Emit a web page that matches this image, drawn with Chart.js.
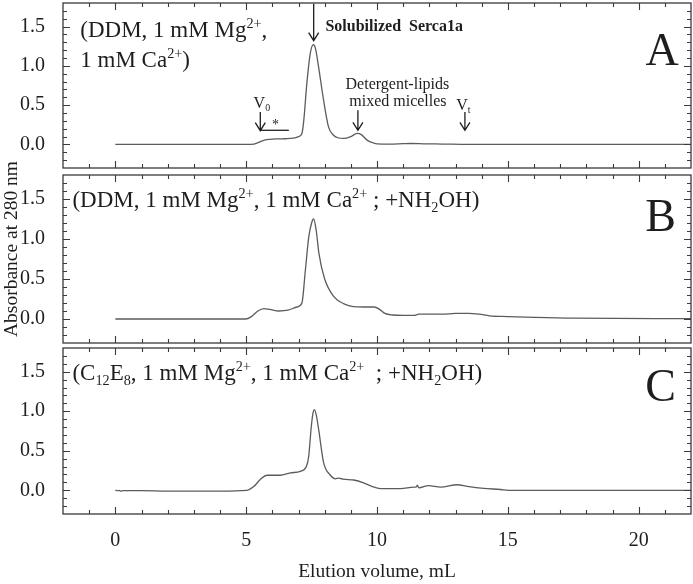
<!DOCTYPE html>
<html><head><meta charset="utf-8">
<script src="https://cdn.jsdelivr.net/npm/chart.js@4/dist/chart.umd.min.js"></script>
<style>
html,body{margin:0;padding:0;background:#fff;}
#wrap{position:relative;width:693px;height:584px;background:#fff;}
#wrap canvas{position:absolute;left:0;top:0;}
</style></head><body>
<div id="wrap">
<canvas id="cA" width="693" height="584"></canvas>
<canvas id="cB" width="693" height="584"></canvas>
<canvas id="cC" width="693" height="584"></canvas>
</div>
<script>
// ---- Data ----
const elutionA = [0, 1, 2, 3, 4, 5, 5.3, 5.5, 5.7, 5.9, 6.2, 6.5, 6.8, 7.0, 7.13, 7.2, 7.32, 7.45, 7.57, 7.65, 7.77, 7.96, 8.15, 8.33, 8.5, 8.74, 9.0, 9.24, 9.4, 9.62, 9.8, 10.0, 10.5, 11.0, 11.3, 11.8, 12.5, 13.5, 15, 18, 22];
const absorbA  = [0, 0, 0, 0, 0, 0, 0.005, 0.03, 0.055, 0.065, 0.07, 0.072, 0.08, 0.1, 0.14, 0.3, 0.78, 1.16, 1.27, 1.22, 0.98, 0.56, 0.22, 0.12, 0.085, 0.076, 0.1, 0.14, 0.125, 0.055, 0.025, 0.008, 0.005, 0.01, 0.012, 0.008, 0.005, 0, 0, 0, 0];

const elutionB = [0, 2, 4, 4.97, 5.2, 5.45, 5.67, 5.9, 6.25, 6.6, 6.94, 7.13, 7.26, 7.39, 7.5, 7.58, 7.68, 7.78, 8.0, 8.35, 8.74, 9.1, 9.5, 9.9, 10.1, 10.3, 10.6, 11.0, 11.4, 11.6, 12.0, 12.5, 13.0, 13.5, 13.9, 14.3, 15.0, 16.0, 17.5, 22];
const absorbB  = [0, 0, 0, 0, 0.03, 0.1, 0.13, 0.12, 0.1, 0.11, 0.15, 0.2, 0.6, 1.02, 1.2, 1.25, 1.1, 0.82, 0.5, 0.28, 0.19, 0.155, 0.15, 0.15, 0.12, 0.07, 0.05, 0.045, 0.045, 0.06, 0.06, 0.06, 0.07, 0.07, 0.06, 0.04, 0.03, 0.02, 0.01, 0.005];

const elutionC = [0, 0.1, 0.15, 0.2, 0.3, 1, 2, 3, 4, 5.03, 5.3, 5.55, 5.8, 6.3, 6.69, 7.07, 7.3, 7.39, 7.49, 7.55, 7.61, 7.68, 7.77, 7.96, 8.22, 8.41, 8.54, 8.7, 9.11, 9.49, 9.8, 10.13, 10.9, 11.41, 11.5, 11.54, 11.6, 11.97, 12.43, 13.07, 13.45, 14.08, 14.72, 15.03, 22];
const absorbC  = [0, -0.005, 0, -0.01, -0.005, -0.005, -0.01, -0.01, -0.01, 0, 0.05, 0.14, 0.19, 0.19, 0.22, 0.24, 0.3, 0.43, 0.81, 0.97, 1.02, 0.95, 0.77, 0.35, 0.19, 0.145, 0.155, 0.14, 0.13, 0.095, 0.05, 0.02, 0.02, 0.04, 0.04, 0.065, 0.03, 0.06, 0.04, 0.07, 0.05, 0.025, 0.01, 0, 0];

const xTickValues = [0, 5, 10, 15, 20];
const yTickValues = [0, 0.5, 1.0, 1.5];
const xRange = [-2, 22];
const yRange = [-0.3, 1.8];
const xTitle = 'Elution volume, mL';
const yTitle = 'Absorbance at 280 nm';

// ---- Styling / drawing helpers ----
const SERIF = "'Liberation Serif','Times New Roman',serif";
const INK = '#1e1e1e';

function drawRich(ctx, segs, px, pyCenter, size, align, weight) {
  const fontOf = m => `${weight || 'normal'} ${m === 'n' ? size : size * 0.62}px ${SERIF}`;
  let total = 0;
  const widths = segs.map(([t, m]) => { ctx.font = fontOf(m); const w = ctx.measureText(t).width; total += w; return w; });
  let cx = align === 'center' ? px - total / 2 : (align === 'right' ? px - total : px);
  const base = pyCenter + size * 0.33;
  ctx.textBaseline = 'alphabetic';
  ctx.textAlign = 'left';
  ctx.fillStyle = INK;
  segs.forEach(([t, m], i) => {
    ctx.font = fontOf(m);
    const dy = m === 'sup' ? -size * 0.4 : (m === 'sub' ? size * 0.2 : 0);
    ctx.fillText(t, cx, base + dy);
    cx += widths[i];
  });
}

const notes = {
  cA: [
    {kind: 'text', x: -1.34, y: 1.463, size: 23, segs: [['(DDM, 1 mM Mg', 'n'], ['2+', 'sup'], [',', 'n']]},
    {kind: 'text', x: -1.34, y: 1.08, size: 23, segs: [['1 mM Ca', 'n'], ['2+', 'sup'], [')', 'n']]},
    {kind: 'text', x: 20.9, y: 1.21, size: 46, align: 'center', segs: [['A', 'n']]},
    {kind: 'arrow', x: 7.58, y1: 1.79, y2: 1.32},
    {kind: 'text', x: 8.03, y: 1.514, size: 16, weight: 'bold', segs: [['Solubilized  Serca1a', 'n']]},
    {kind: 'text', x: 10.78, y: 0.778, size: 16, align: 'center', segs: [['Detergent-lipids', 'n']]},
    {kind: 'text', x: 10.8, y: 0.55, size: 16, align: 'center', segs: [['mixed micelles', 'n']]},
    {kind: 'arrow', x: 9.27, y1: 0.435, y2: 0.18},
    {kind: 'text', x: 13.3, y: 0.51, size: 16, align: 'center', segs: [['V', 'n'], ['t', 'sub']]},
    {kind: 'arrow', x: 13.36, y1: 0.414, y2: 0.18},
    {kind: 'text', x: 5.6, y: 0.537, size: 16, align: 'center', segs: [['V', 'n'], ['0', 'sub']]},
    {kind: 'arrow', x: 5.54, y1: 0.414, y2: 0.175},
    {kind: 'hline', x1: 5.54, x2: 6.63, y: 0.18},
    {kind: 'text', x: 6.12, y: 0.26, size: 14, align: 'center', segs: [['*', 'n']]}
  ],
  cB: [
    {kind: 'text', x: -1.64, y: 1.49, size: 23, segs: [['(DDM, 1 mM Mg', 'n'], ['2+', 'sup'], [', 1 mM Ca', 'n'], ['2+', 'sup'], [' ; +NH', 'n'], ['2', 'sub'], ['OH)', 'n']]},
    {kind: 'text', x: 20.84, y: 1.29, size: 46, align: 'center', segs: [['B', 'n']]},
    {kind: 'ytitle'}
  ],
  cC: [
    {kind: 'text', x: -1.64, y: 1.49, size: 23, segs: [['(C', 'n'], ['12', 'sub'], ['E', 'n'], ['8', 'sub'], [', 1 mM Mg', 'n'], ['2+', 'sup'], [', 1 mM Ca', 'n'], ['2+', 'sup'], ['  ; +NH', 'n'], ['2', 'sub'], ['OH)', 'n']]},
    {kind: 'text', x: 20.84, y: 1.32, size: 46, align: 'center', segs: [['C', 'n']]}
  ]
};

const framePlugin = {
  id: 'frameTicks',
  afterDatasetsDraw(chart) {
    const {ctx, chartArea: a, scales: {x, y}} = chart;
    ctx.save();
    ctx.strokeStyle = '#3a3a3a';
    ctx.lineWidth = 1.3;
    ctx.strokeRect(a.left, a.top, a.right - a.left, a.bottom - a.top);
    ctx.lineWidth = 1.1;
    ctx.beginPath();
    for (let v = Math.ceil(x.min) + 1; v < x.max; v++) {
      const p = Math.round(x.getPixelForValue(v)) + 0.5;
      const L = v % 5 === 0 ? 7 : 4;
      ctx.moveTo(p, a.bottom); ctx.lineTo(p, a.bottom - L);
      ctx.moveTo(p, a.top); ctx.lineTo(p, a.top + L);
    }
    for (let i = Math.round(y.min * 10) + 1; i < Math.round(y.max * 10); i++) {
      const p = Math.round(y.getPixelForValue(i / 10)) + 0.5;
      const L = i % 5 === 0 ? 7 : 4;
      ctx.moveTo(a.left, p); ctx.lineTo(a.left + L, p);
      ctx.moveTo(a.right, p); ctx.lineTo(a.right - L, p);
    }
    ctx.stroke();
    ctx.restore();
  }
};

const notesPlugin = {
  id: 'panelNotes',
  afterDraw(chart) {
    const list = notes[chart.canvas.id] || [];
    const {ctx, scales: {x, y}} = chart;
    ctx.save();
    ctx.strokeStyle = INK;
    ctx.lineWidth = 1.3;
    list.forEach(n => {
      if (n.kind === 'text') {
        drawRich(ctx, n.segs, x.getPixelForValue(n.x), y.getPixelForValue(n.y), n.size, n.align, n.weight);
      } else if (n.kind === 'arrow') {
        const px = x.getPixelForValue(n.x), p1 = y.getPixelForValue(n.y1), p2 = y.getPixelForValue(n.y2);
        ctx.beginPath();
        ctx.moveTo(px, p1); ctx.lineTo(px, p2);
        ctx.moveTo(px - 5, p2 - 8); ctx.lineTo(px, p2); ctx.lineTo(px + 5, p2 - 8);
        ctx.stroke();
      } else if (n.kind === 'hline') {
        const p = y.getPixelForValue(n.y);
        ctx.beginPath();
        ctx.moveTo(x.getPixelForValue(n.x1), p); ctx.lineTo(x.getPixelForValue(n.x2), p);
        ctx.stroke();
      } else if (n.kind === 'ytitle') {
        ctx.save();
        ctx.translate(12, 249);
        ctx.rotate(-Math.PI / 2);
        ctx.font = `19.5px ${SERIF}`;
        ctx.fillStyle = INK;
        ctx.textAlign = 'center';
        ctx.textBaseline = 'middle';
        ctx.fillText(yTitle, 0, 0);
        ctx.restore();
      }
    });
    ctx.restore();
  }
};

function makePanel(id, xs, ys, top, bottom, showX) {
  const pts = xs.map((v, i) => ({x: v, y: ys[i]}));
  return new Chart(document.getElementById(id), {
    type: 'line',
    data: {datasets: [{data: pts, borderColor: '#5c5c5c', borderWidth: 1.3, pointRadius: 0, fill: false, cubicInterpolationMode: 'monotone'}]},
    options: {
      responsive: false, animation: false, events: [],
      layout: {padding: {top: top, bottom: showX ? 0 : 584 - bottom, left: 0, right: 2}},
      plugins: {legend: {display: false}, tooltip: {enabled: false}},
      scales: {
        x: {
          type: 'linear', min: xRange[0], max: xRange[1],
          grid: {display: false}, border: {display: false},
          afterBuildTicks: s => { s.ticks = xTickValues.map(v => ({value: v})); },
          afterFit: s => { s.height = showX ? 584 - bottom : 0; s.paddingLeft = 0; s.paddingRight = 0; },
          ticks: {display: showX, padding: 7, color: INK, font: {family: SERIF, size: 20}, maxRotation: 0, callback: v => String(v)},
          title: {display: showX, text: xTitle, color: INK, font: {family: SERIF, size: 19.5}, padding: {top: 0, bottom: 0}}
        },
        y: {
          min: yRange[0], max: yRange[1],
          grid: {display: false}, border: {display: false},
          afterBuildTicks: s => { s.ticks = yTickValues.map(v => ({value: v})); },
          afterFit: s => { s.width = 63; s.paddingTop = 0; s.paddingBottom = 0; },
          ticks: {padding: 10, color: INK, font: {family: SERIF, size: 20}, callback: v => Number(v).toFixed(1)}
        }
      }
    },
    plugins: [framePlugin, notesPlugin]
  });
}

makePanel('cA', elutionA, absorbA, 3, 168, false);
makePanel('cB', elutionB, absorbB, 175, 343, false);
makePanel('cC', elutionC, absorbC, 348, 514, true);
</script>
</body></html>
